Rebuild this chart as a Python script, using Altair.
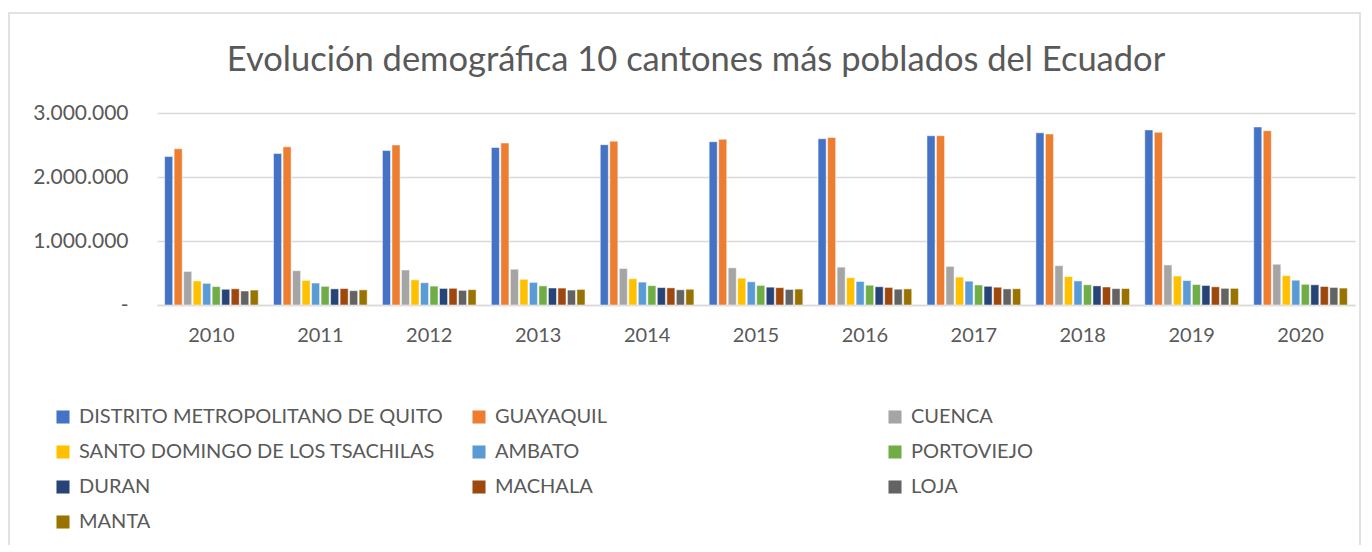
import altair as alt
import pandas as pd

years = ["2010", "2011", "2012", "2013", "2014", "2015", "2016", "2017", "2018", "2019", "2020"]
cantones = [
    "DISTRITO METROPOLITANO DE QUITO", "GUAYAQUIL", "CUENCA",
    "SANTO DOMINGO DE LOS TSACHILAS", "AMBATO", "PORTOVIEJO",
    "DURAN", "MACHALA", "LOJA", "MANTA",
]
colors = ["#4472C4", "#ED7D31", "#A5A5A5", "#FFC000", "#5B9BD5",
          "#70AD47", "#264478", "#9E480E", "#636363", "#997300"]

quito = [2319671, 2365973, 2413110, 2460430, 2505344, 2551721, 2597989, 2644145, 2690150, 2735987, 2781641]
guayaquil = [2440553, 2471180, 2500913, 2531223, 2560505, 2589229, 2617349, 2644891, 2671801, 2698077, 2723665]
cuenca = [524563, 535996, 547430, 558947, 570437, 580706, 591996, 603269, 614539, 625775, 636996]
santo_domingo = [376414, 384819, 393254, 401722, 410211, 418680, 427155, 435599, 444063, 452526, 458580]
ambato = [337826, 342925, 347965, 352945, 357842, 362666, 367416, 372095, 376688, 382045, 387309]
portoviejo = [287536, 291317, 295007, 298657, 302232, 305804, 309313, 312755, 316155, 319534, 322925]
duran = [245745, 252302, 258944, 265603, 272210, 278814, 285424, 292000, 298509, 305099, 315724]
machala = [253505, 257186, 260787, 264345, 267835, 271278, 274658, 277999, 281299, 284553, 289141]
loja = [219149, 223928, 228662, 233367, 238019, 242618, 247150, 251646, 256070, 260465, 274112]
manta = [233632, 236788, 239868, 242904, 245876, 248803, 251671, 254492, 257265, 259993, 264281]

series = [quito, guayaquil, cuenca, santo_domingo, ambato, portoviejo, duran, machala, loja, manta]

rows = []
for name, vals in zip(cantones, series):
    for y, v in zip(years, vals):
        rows.append({"anio": y, "canton": name, "poblacion": v})
df = pd.DataFrame(rows)

FONT = "Lato"
GRAY = "#595959"

bars = alt.Chart(df).mark_bar(stroke="white", strokeWidth=0.5).encode(
    x=alt.X("anio:N", sort=years,
            scale=alt.Scale(paddingInner=0.14, paddingOuter=0.07),
            axis=alt.Axis(title=None, labelAngle=0, ticks=False, domain=True,
                          domainColor="#D9D9D9", domainWidth=1.5,
                          labelFont=FONT, labelFontSize=20, labelColor=GRAY,
                          labelPadding=20)),
    xOffset=alt.XOffset("canton:N", sort=cantones,
                        scale=alt.Scale(paddingInner=0.15, paddingOuter=0)),
    y=alt.Y("poblacion:Q",
            scale=alt.Scale(domain=[0, 3000000], nice=False),
            axis=alt.Axis(title=None, values=[0, 1000000, 2000000, 3000000],
                          ticks=False, domain=False,
                          gridColor="#D9D9D9", gridWidth=1.5,
                          labelFont=FONT, labelFontSize=21, labelColor=GRAY,
                          labelPadding=29,
                          labelExpr="datum.value == 0 ? '-\u00a0\u00a0\u00a0' : replace(format(datum.value, ','), regexp(',', 'g'), '.')")),
    color=alt.Color("canton:N", sort=cantones,
                    scale=alt.Scale(domain=cantones, range=colors),
                    legend=alt.Legend(title=None, orient="none",
                                      direction="horizontal",
                                      legendX=-104, legendY=294,
                                      columns=3, gridAlign="all",
                                      columnPadding=26, rowPadding=15,
                                      symbolType="square", symbolSize=170,
                                      symbolStrokeWidth=0, symbolOffset=0,
                                      labelFont=FONT, labelFontSize=20,
                                      labelColor=GRAY, labelLimit=600,
                                      labelOffset=6)),
)

border = alt.Chart(alt.Data(values=[{}])).mark_rect(
    fill="transparent", stroke="#D9D9D9", strokeWidth=1.5
).encode(
    x=alt.value(-148), x2=alt.value(1203),
    y=alt.value(-100), y2=alt.value(450),
)

chart = alt.layer(border, bars).properties(
    width=1198, height=192,
    padding={"left": 149, "top": 105, "right": 9, "bottom": 240},
    autosize=alt.AutoSizeParams(type="none"),
    title=alt.TitleParams(
        "Evolución demográfica 10 cantones más poblados del Ecuador",
        font=FONT, fontSize=34.5, fontWeight="normal", color=GRAY,
        anchor="middle", dx=-60, offset=-66,
    ),
).configure_view(stroke=None)

chart.save("out.html", embed_options={"renderer": "svg", "actions": False})
